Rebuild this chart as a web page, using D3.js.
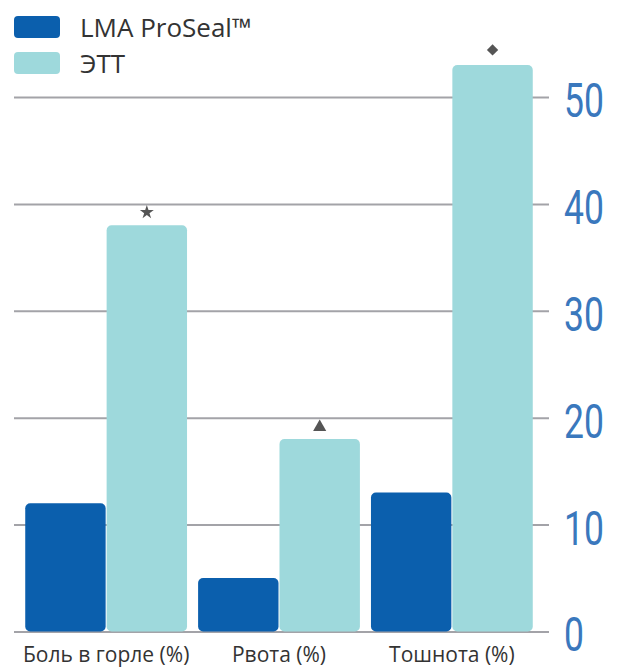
<!DOCTYPE html>
<html><head><meta charset="utf-8">
<script src="https://cdn.jsdelivr.net/npm/d3@7"></script>
<style>body{margin:0;background:#fff}svg{display:block}</style>
</head><body>
<script>
const categories = ["Боль в горле (%)", "Рвота (%)", "Тошнота (%)"];
const series = ["LMA ProSeal™", "ЭТТ"];
const proseal = [12, 5, 13];
const ett = [38, 18, 53];
const markers = ["star", "triangle", "diamond"];
const tickValues = [0, 10, 20, 30, 40, 50];
const colors = ["#0b5fad", "#9ed9dc"];

const W = 619, H = 668;
const svg = d3.select("body").append("svg").attr("width", W).attr("height", H);

const y = d3.scaleLinear().domain([0, 50]).range([631.5, 97]);
const x0 = d3.scaleBand().domain(categories).range([14, 544]).paddingInner(0.064).paddingOuter(0.065);
const x1 = d3.scaleBand().domain(series).range([0, x0.bandwidth()]).paddingInner(0.012);

// grid / axis
const axis = d3.axisRight(y).tickValues(tickValues).tickSize(-(549 - 14)).tickPadding(0).tickFormat(d3.format("d"));
const ag = svg.append("g").attr("transform", "translate(549,0)").call(axis);
ag.select(".domain").remove();
ag.selectAll(".tick line").attr("stroke", "#a3a3a8").attr("stroke-width", 2);
ag.selectAll(".tick text")
  .attr("x", 0).attr("dy", null).attr("dominant-baseline", "central")
  .attr("transform", "translate(15,3) scale(0.74,1)")
  .attr("fill", "#3a78bd").attr("font-family", "Roboto").attr("font-size", 48).attr("text-anchor", "start");

const data = categories.map((c, i) => ({cat: c, vals: [proseal[i], ett[i]], marker: markers[i]}));

const groups = svg.append("g").selectAll("g").data(data).join("g")
  .attr("transform", d => `translate(${x0(d.cat)},0)`);
groups.selectAll("rect").data(d => d.vals.map((v, j) => ({s: series[j], v, j}))).join("rect")
  .attr("x", d => x1(d.s)).attr("width", x1.bandwidth())
  .attr("y", d => y(d.v)).attr("height", d => y(0) - y(d.v))
  .attr("rx", 5).attr("fill", d => colors[d.j]);

const symMap = {star: d3.symbolStar, triangle: d3.symbolTriangle, diamond: d3.symbolSquare};
const sizeMap = {star: 60, triangle: 75, diamond: 64};
const offMap = {star: 13, triangle: 12, diamond: 15};
groups.append("path")
  .attr("d", d => d3.symbol().type(symMap[d.marker]).size(sizeMap[d.marker])())
  .attr("transform", d => `translate(${x1(series[1]) + x1.bandwidth() / 2},${y(d.vals[1]) - offMap[d.marker]})` + (d.marker === "diamond" ? " rotate(45)" : ""))
  .attr("fill", "#555");

// category labels
svg.append("g").selectAll("text").data(categories).join("text")
  .attr("x", d => x0(d) + x0.bandwidth() / 2).attr("y", 662)
  .attr("text-anchor", "middle").attr("font-family", "Open Sans").attr("font-size", 21)
  .attr("fill", "#333").text(d => d);

// legend
const lg = svg.append("g").selectAll("g").data(series).join("g")
  .attr("transform", (d, i) => `translate(14,${16 + i * 36})`);
lg.append("rect").attr("width", 46).attr("height", 22).attr("rx", 4).attr("fill", (d, i) => colors[i]);
lg.append("text").attr("x", 66).attr("y", 21).attr("font-family", "Open Sans").attr("font-size", 26)
  .attr("fill", "#333").text(d => d);
</script>
</body></html>
